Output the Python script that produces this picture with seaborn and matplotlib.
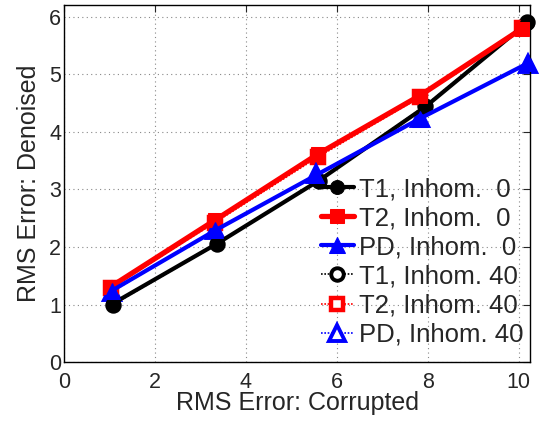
import matplotlib
matplotlib.use("Agg")
import matplotlib.pyplot as plt
import seaborn as sns
import pandas as pd

# Data
x_t1 = [1.08, 3.37, 5.6, 7.94, 10.18]
y_t1_0 = [1.02, 2.06, 3.15, 4.43, 5.89]
x_t2 = [1.03, 3.31, 5.58, 7.83, 10.07]
y_t2_0 = [1.31, 2.46, 3.61, 4.63, 5.79]
x_pd = [1.05, 3.33, 5.55, 7.83, 10.2]
y_pd_0 = [1.24, 2.29, 3.25, 4.23, 5.19]

y_t1_40 = [1.0, 2.05, 3.15, 4.45, 5.9]
y_t2_40 = [1.29, 2.42, 3.56, 4.6, 5.8]
y_pd_40 = [1.22, 2.3, 3.26, 4.24, 5.18]

labels = ["T1, Inhom.  0", "T2, Inhom.  0", "PD, Inhom.  0",
          "T1, Inhom. 40", "T2, Inhom. 40", "PD, Inhom. 40"]

sns.set_style("white")
plt.rcParams['font.family'] = ['Liberation Sans', 'DejaVu Sans']

fig = plt.figure(figsize=(5.43, 4.28), dpi=100)
ax = fig.add_axes([0.118, 0.154, 0.858, 0.834])

series = [
    (x_t1, y_t1_0, labels[0], dict(color="black", lw=3.0, marker="o", ms=10, mfc="black", mec="black", ls="-"), 3),
    (x_t2, y_t2_0, labels[1], dict(color="red", lw=3.8, marker="s", ms=10, mfc="red", mec="red", ls="-"), 3),
    (x_pd, y_pd_0, labels[2], dict(color="blue", lw=3.0, marker="^", ms=12, mfc="blue", mec="blue", ls="-"), 3),
    (x_t1, y_t1_40, labels[3], dict(color="black", lw=1.2, marker="o", ms=9, mfc="white", mec="black", mew=2.8, ls=(0, (1, 1))), 2),
    (x_t2, y_t2_40, labels[4], dict(color="red", lw=1.2, marker="s", ms=9, mfc="white", mec="red", mew=3.2, ls=(0, (1, 1))), 2),
    (x_pd, y_pd_40, labels[5], dict(color="blue", lw=1.2, marker="^", ms=11, mfc="white", mec="blue", mew=2.8, ls=(0, (1, 1))), 2),
]

for xs, ys, lab, kw, z in series:
    df = pd.DataFrame({"x": xs, "y": ys})
    color = kw.pop("color")
    ls = kw.pop("ls")
    lw = kw.pop("lw")
    sns.lineplot(data=df, x="x", y="y", ax=ax, color=color, linewidth=lw,
                 linestyle=ls, label=lab, clip_on=False, sort=False, zorder=z, **kw)

ax.set_xlim(0, 10.25)
ax.set_ylim(0, 6.2)
ax.set_xticks([0, 2, 4, 6, 8, 10])
ax.set_yticks([0, 1, 2, 3, 4, 5, 6])
ax.grid(True, color="#888888", linestyle=(0, (1, 3)), linewidth=0.8)
ax.tick_params(direction="in", top=True, right=True, length=5, labelsize=15.5, width=0.8)
ax.tick_params(axis="x", pad=7)
ax.tick_params(axis="y", pad=2)
for s in ax.spines.values():
    s.set_color("black")
    s.set_linewidth(1.0)
ax.set_xlabel("RMS Error: Corrupted", fontsize=18, labelpad=-1)
ax.set_ylabel("RMS Error: Denoised", fontsize=18, labelpad=6)

leg = ax.legend(loc="lower right", bbox_to_anchor=(1.0, 0.025), frameon=False,
                fontsize=18.5, handlelength=1.3,
                labelspacing=0.2, handletextpad=0.2, borderaxespad=0.1,
                borderpad=0.15)

fig.savefig("out.png", dpi=100)
